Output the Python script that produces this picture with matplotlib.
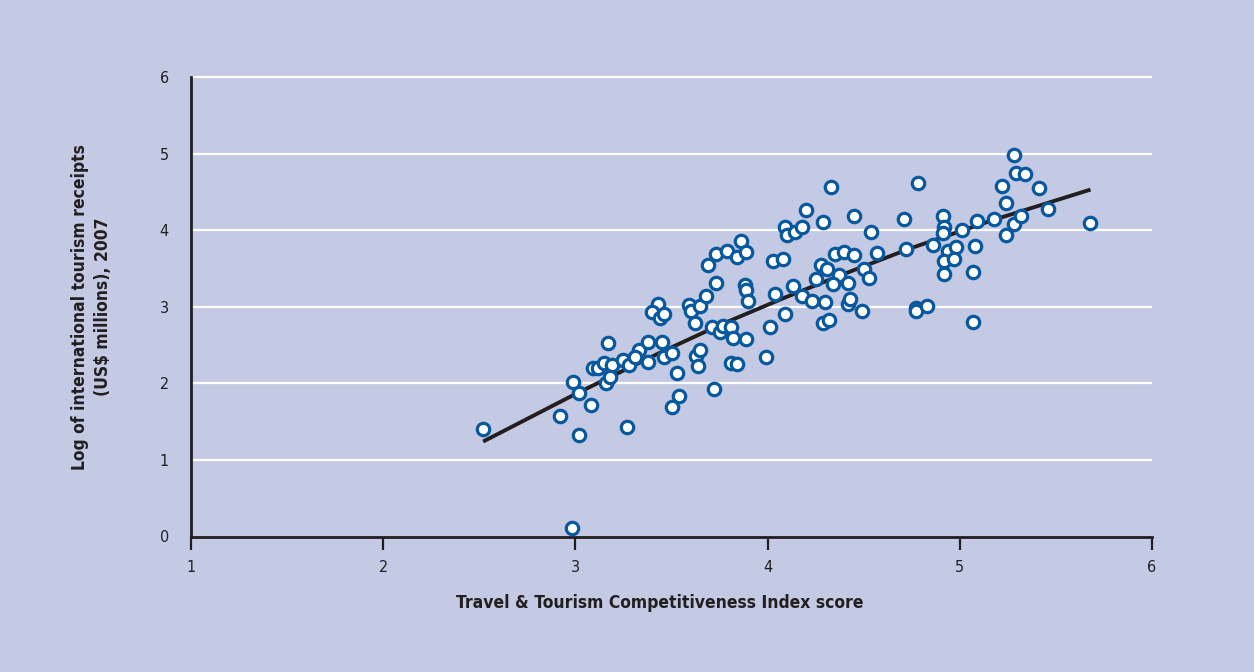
import matplotlib.pyplot as plt

# Index score vs log of tourism receipts
tcci = [2.52, 2.92, 3.02, 2.99, 3.02, 3.08, 2.98, 3.27, 3.09, 3.12,
        3.15, 3.19, 3.17, 3.16, 3.18, 3.25, 3.28, 3.33, 3.31, 3.38,
        3.38, 3.45, 3.46, 3.50, 3.53, 3.54, 3.50, 3.43, 3.40, 3.44,
        3.46, 3.59, 3.60, 3.65, 3.62, 3.68, 3.73, 3.63, 3.65, 3.64,
        3.72, 3.71, 3.75, 3.69, 3.73, 3.79, 3.84, 3.86, 3.89, 3.88,
        3.89, 3.90, 3.77, 3.81, 3.82, 3.89, 3.81, 3.84, 3.99, 4.01,
        4.04, 4.09, 4.03, 4.08, 4.09, 4.10, 4.14, 4.18, 4.29, 4.13,
        4.18, 4.23, 4.30, 4.29, 4.32, 4.25, 4.28, 4.31, 4.37, 4.34,
        4.35, 4.40, 4.45, 4.42, 4.42, 4.43, 4.49, 4.50, 4.53, 4.54,
        4.57, 4.72, 4.33, 4.45, 4.71, 4.78, 4.77, 4.77, 4.83, 4.86,
        4.91, 4.92, 4.91, 5.01, 4.94, 4.98, 4.92, 4.97, 4.92, 5.08,
        5.07, 5.07, 5.09, 5.18, 5.22, 5.24, 5.28, 5.24, 5.32, 5.28,
        5.29, 5.34, 5.41, 5.46, 5.68, 4.20]
receipts = [1.40, 1.57, 1.32, 2.02, 1.87, 1.72, 0.11, 1.43, 2.20, 2.20,
            2.26, 2.24, 2.53, 2.00, 2.08, 2.30, 2.24, 2.43, 2.34, 2.54,
            2.28, 2.54, 2.35, 2.40, 2.14, 1.83, 1.69, 3.04, 2.93, 2.85,
            2.91, 3.02, 2.95, 3.01, 2.79, 3.14, 3.31, 2.36, 2.43, 2.22,
            1.92, 2.74, 2.67, 3.54, 3.69, 3.73, 3.65, 3.86, 3.72, 3.29,
            3.22, 3.08, 2.75, 2.74, 2.59, 2.58, 2.27, 2.25, 2.35, 2.73,
            3.17, 2.90, 3.60, 3.62, 4.04, 3.94, 3.97, 4.04, 4.11, 3.27,
            3.14, 3.07, 3.06, 2.79, 2.83, 3.36, 3.54, 3.49, 3.42, 3.30,
            3.69, 3.71, 3.67, 3.31, 3.04, 3.10, 2.94, 3.49, 3.38, 3.97,
            3.70, 3.76, 4.57, 4.18, 4.15, 4.62, 2.99, 2.95, 3.01, 3.81,
            4.19, 4.04, 3.96, 4.00, 3.73, 3.78, 3.60, 3.63, 3.43, 3.79,
            3.45, 2.80, 4.12, 4.14, 4.58, 4.35, 4.08, 3.94, 4.18, 4.98,
            4.75, 4.73, 4.55, 4.28, 4.09, 4.26]

# trend line
fit_x = [2.52, 3.0, 3.44, 3.75, 4.09, 4.43, 4.74, 5.17, 5.68]
fit_y = [1.24, 1.86, 2.40, 2.76, 3.12, 3.46, 3.76, 4.13, 4.53]

x_ticks = [1, 2, 3, 4, 5, 6]
y_ticks = [0, 1, 2, 3, 4, 5, 6]

bg = '#c4cae3'
blue = '#07589e'
dark = '#231f20'

plt.rcParams['font.family'] = ['DejaVu Sans']
plt.rcParams['font.stretch'] = 'condensed'

fig = plt.figure(figsize=(12.54, 6.72), dpi=100, facecolor=bg)
ax = fig.add_axes([191 / 1254, 1 - 536.5 / 672, 961 / 1254, 459.5 / 672])
ax.set_facecolor(bg)

ax.set_xlim(1, 6)
ax.set_ylim(0, 6)

# white gridlines
ax.hlines(y_ticks[1:], 1, 6, colors='white', linewidth=1.6, zorder=1, clip_on=False)

ax.plot(fit_x, fit_y, color=dark, linewidth=2.8, zorder=2, solid_capstyle='butt')
ax.scatter(tcci, receipts, s=80, facecolor='white', edgecolor=blue,
           linewidth=2.3, zorder=3, clip_on=False)

for side in ['top', 'right']:
    ax.spines[side].set_visible(False)
for side in ['left', 'bottom']:
    ax.spines[side].set_color(dark)
    ax.spines[side].set_linewidth(2)

ax.set_xticks(x_ticks)
ax.set_yticks(y_ticks)
ax.tick_params(axis='x', direction='out', length=9, width=1.6, color=dark,
               labelsize=11.5, labelcolor=dark, pad=8)
ax.tick_params(axis='y', length=0, labelsize=11.5, labelcolor=dark, pad=16)

ax.set_xlabel('Travel & Tourism Competitiveness Index score',
              fontsize=12.5, fontweight='bold', color=dark)
ax.xaxis.set_label_coords((660 - 191) / 961, -(603 - 536.5) / 459.5)
ax.set_ylabel('Log of international tourism receipts\n(US$ millions), 2007',
              fontsize=12.5, fontweight='bold', color=dark, linespacing=1.3)
ax.yaxis.set_label_coords(-(191 - 91.5) / 961, 0.5)
ax.xaxis.label.set_va('center')
ax.yaxis.label.set_va('center')

fig.savefig('out.png', dpi=100, facecolor=bg)
